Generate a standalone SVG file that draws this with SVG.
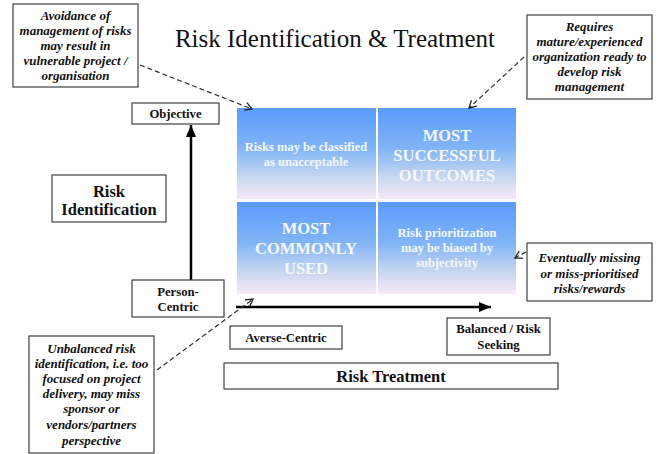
<svg xmlns="http://www.w3.org/2000/svg" width="660" height="454" viewBox="0 0 660 454">
<defs>
<linearGradient id="cellg" x1="0" y1="0" x2="0" y2="1">
<stop offset="0" stop-color="#5a9bfb"/>
<stop offset="0.45" stop-color="#82b5f7"/>
<stop offset="0.75" stop-color="#c6d6ef"/>
<stop offset="1" stop-color="#f8e8f8"/>
</linearGradient>
<marker id="open" markerWidth="10" markerHeight="10" refX="8" refY="5" orient="auto" markerUnits="userSpaceOnUse">
<path d="M1,1 L8,5 L1,9" fill="none" stroke="#222" stroke-width="1.3"/>
</marker>
<marker id="solid" markerWidth="14" markerHeight="12" refX="12" refY="6" orient="auto" markerUnits="userSpaceOnUse">
<path d="M0,1 L12,6 L0,11 Z" fill="#000"/>
</marker>
</defs>
<style>
.box{fill:#fff;stroke:#404040;stroke-width:1.2}
.note{font-family:"Liberation Serif",serif;font-weight:bold;font-style:italic;font-size:13px;fill:#111;text-anchor:middle}
.lbl{font-family:"Liberation Serif",serif;font-weight:bold;font-size:12.7px;fill:#111;text-anchor:middle}
.big{font-family:"Liberation Serif",serif;font-weight:bold;font-size:16.5px;fill:#111;text-anchor:middle}
.cell{fill:url(#cellg)}
.ct{font-family:"Liberation Serif",serif;font-weight:bold;font-size:12.5px;fill:#f6f8fc;text-anchor:middle}
.cb{font-family:"Liberation Serif",serif;font-weight:bold;font-size:16.5px;fill:#f6f8fc;text-anchor:middle}
.dash{fill:none;stroke:#333;stroke-width:1.2;stroke-dasharray:5,3;marker-end:url(#open)}
.axis{fill:none;stroke:#000;stroke-width:2.5;marker-end:url(#solid)}
</style>
<rect width="660" height="454" fill="#fff"/>
<text x="335" y="47" font-family="Liberation Serif, serif" font-size="25" text-anchor="middle" fill="#111">Risk Identification &amp; Treatment</text>

<g id="matrix">
<rect class="cell" x="237" y="108" width="139" height="91"/>
<rect class="cell" x="378" y="108" width="138" height="91"/>
<rect class="cell" x="237" y="202" width="139" height="92"/>
<rect class="cell" x="378" y="202" width="138" height="92"/>
<text class="ct" x="306" y="151">Risks may be classified</text>
<text class="ct" x="306" y="166">as unacceptable</text>
<text class="cb" x="447" y="141">MOST</text>
<text class="cb" x="447" y="161">SUCCESSFUL</text>
<text class="cb" x="447" y="181">OUTCOMES</text>
<text class="cb" x="306" y="234">MOST</text>
<text class="cb" x="306" y="254">COMMONLY</text>
<text class="cb" x="306" y="274">USED</text>
<text class="ct" x="447" y="237">Risk prioritization</text>
<text class="ct" x="447" y="252">may be biased by</text>
<text class="ct" x="447" y="267">subjectivity</text>
</g>

<g id="connectors">
<line class="axis" x1="191" y1="282" x2="191" y2="125"/>
<line class="axis" x1="236" y1="307" x2="491" y2="307"/>
<line class="dash" x1="140" y1="65" x2="252" y2="109"/>
<line class="dash" x1="524" y1="57" x2="469" y2="108"/>
<line class="dash" x1="157" y1="370" x2="253" y2="299"/>
<line class="dash" x1="526" y1="252" x2="515" y2="258"/>
</g>

<g id="note-avoidance">
<rect class="box" x="13" y="4" width="125" height="83"/>
<text class="note" x="75.5" y="20">Avoidance of</text>
<text class="note" x="75.5" y="35">management of risks</text>
<text class="note" x="75.5" y="50">may result in</text>
<text class="note" x="75.5" y="65">vulnerable  project /</text>
<text class="note" x="75.5" y="80">organisation</text>
</g>

<g id="note-requires">
<rect class="box" x="527" y="15" width="125" height="84"/>
<text class="note" x="589.5" y="31">Requires</text>
<text class="note" x="589.5" y="46">mature/experienced</text>
<text class="note" x="589.5" y="61">organization ready to</text>
<text class="note" x="589.5" y="76">develop risk</text>
<text class="note" x="589.5" y="91">management</text>
</g>

<g id="objective">
<rect class="box" x="132" y="103" width="87" height="21"/>
<text class="lbl" x="175.5" y="118">Objective</text>
</g>

<g id="risk-identification">
<rect class="box" x="52" y="175" width="114" height="47"/>
<text class="big" x="109" y="197">Risk</text>
<text class="big" x="109" y="215">Identification</text>
</g>

<g id="person-centric">
<rect class="box" x="132" y="280" width="92" height="37"/>
<text class="lbl" x="178" y="296">Person-</text>
<text class="lbl" x="178" y="311">Centric</text>
</g>

<g id="averse-centric">
<rect class="box" x="230" y="326" width="112" height="23"/>
<text class="lbl" x="286" y="342">Averse-Centric</text>
</g>

<g id="balanced">
<rect class="box" x="447" y="318" width="103" height="37"/>
<text class="lbl" x="498.5" y="333">Balanced / Risk</text>
<text class="lbl" x="498.5" y="349">Seeking</text>
</g>

<g id="risk-treatment">
<rect class="box" x="224" y="363" width="334" height="26"/>
<text class="big" x="391" y="382">Risk Treatment</text>
</g>

<g id="note-eventually">
<rect class="box" x="527" y="243" width="125" height="58"/>
<text class="note" x="589.5" y="262">Eventually missing</text>
<text class="note" x="589.5" y="278">or miss-prioritised</text>
<text class="note" x="589.5" y="293">risks/rewards</text>
</g>

<g id="note-unbalanced">
<rect class="box" x="29" y="336" width="125" height="117"/>
<text class="note" x="91.5" y="353">Unbalanced risk</text>
<text class="note" x="91.5" y="368">identification, i.e. too</text>
<text class="note" x="91.5" y="383">focused on project</text>
<text class="note" x="91.5" y="398">delivery, may miss</text>
<text class="note" x="91.5" y="413">sponsor or</text>
<text class="note" x="91.5" y="429">vendors/partners</text>
<text class="note" x="91.5" y="445">perspective</text>
</g>
</svg>
